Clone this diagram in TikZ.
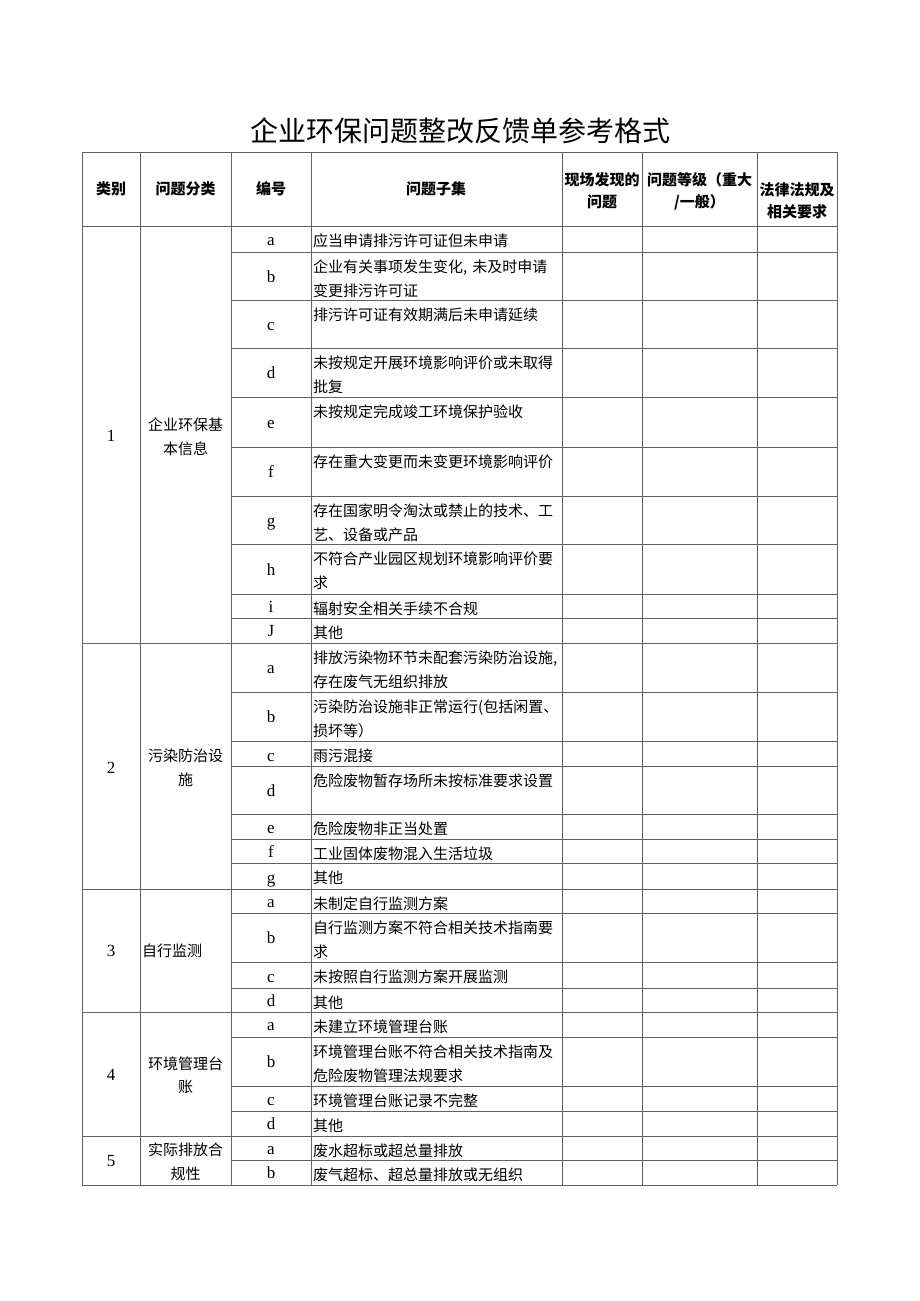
\documentclass[tikz,border=0pt]{standalone}
\usepackage{fontspec}
\setmainfont{Liberation Serif}
\newfontfamily\cjk{Noto Sans CJK SC}
\begin{document}
\begin{tikzpicture}[x=1pt,y=-1pt,
  grid/.style={draw=black!62, line width=0.8pt},
  q/.style={anchor=north west, inner sep=0pt, text width=252pt, align=left, font=\cjk\fontsize{15}{24}\selectfont},
  lt/.style={anchor=base, inner sep=0pt, font=\fontsize{17}{20}\selectfont},
  num/.style={inner sep=0pt, font=\fontsize{17}{20}\selectfont},
  cat/.style={inner sep=0pt, align=center, font=\cjk\fontsize{15}{23.5}\selectfont},
  hd/.style={inner sep=0pt, align=center, font=\cjk\bfseries\fontsize{15}{22}\selectfont},
  ttl/.style={inner sep=0pt, font=\cjk\fontsize{28}{32}\selectfont}]
\useasboundingbox (0,0) rectangle (920,1301);
\fill[white] (0,0) rectangle (920,1301);

% title
\node[ttl] (title) at (460,131) {企业环保问题整改反馈单参考格式};

% grid: vertical lines
\foreach \x in {82,140,231,311,562,642,757,837}
  \draw[grid] (\x,152) -- (\x,1185);
% full-width horizontal lines
\foreach \y in {152,226,643,889,1012,1136,1185}
  \draw[grid] (82,\y) -- (837,\y);
% sub-row lines
\foreach \y in {252,300,348,397,447,496,544,594,618,
                692,741,766,814,839,863,
                913,962,988,
                1037,1086,1111,
                1160}
  \draw[grid] (231,\y) -- (837,\y);

% header
\node[hd] (h1) at (111,189) {类别};
\node[hd] (h2) at (185.5,189) {问题分类};
\node[hd] (h3) at (271,189) {编号};
\node[hd] (h4) at (436,189) {问题子集};
\node[hd] (h5) at (602,191) {现场发现的\\问题};
\node[hd] (h6) at (699.5,191) {问题等级（重大\\/一般）};
\node[hd] (h7) at (797,201) {法律法规及\\相关要求};

% category numbers and names
\node[num] (n1) at (111,436) {1};
\node[cat] (c1) at (185.5,436.5) {企业环保基\\本信息};
\node[num] (n2) at (111,768) {2};
\node[cat] (c2) at (185.5,768) {污染防治设\\施};
\node[num] (n3) at (111,951) {3};
\node[cat, anchor=west] (c3) at (142,951) {自行监测};
\node[num] (n4) at (111,1075) {4};
\node[cat] (c4) at (185.5,1075.5) {环境管理台\\账};
\node[num] (n5) at (111,1161) {5};
\node[cat] (c5) at (185.5,1161.5) {实际排放合\\规性};

% category 1
\node[lt] (l1a) at (271,245) {a};
\node[q] (q1a) at (313,232) {\rule{0pt}{14pt}应当申请排污许可证但未申请};
\node[lt] (l1b) at (271,282) {b};
\node[q] (q1b) at (313,258) {\rule{0pt}{14pt}企业有关事项发生变化, 未及时申请\\变更排污许可证};
\node[lt] (l1c) at (271,330) {c};
\node[q] (q1c) at (313,306) {\rule{0pt}{14pt}排污许可证有效期满后未申请延续};
\node[lt] (l1d) at (271,378.5) {d};
\node[q] (q1d) at (313,354) {\rule{0pt}{14pt}未按规定开展环境影响评价或未取得\\批复};
\node[lt] (l1e) at (271,428) {e};
\node[q] (q1e) at (313,403) {\rule{0pt}{14pt}未按规定完成竣工环境保护验收};
\node[lt] (l1f) at (271,477.5) {f};
\node[q] (q1f) at (313,453) {\rule{0pt}{14pt}存在重大变更而未变更环境影响评价};
\node[lt] (l1g) at (271,526) {g};
\node[q] (q1g) at (313,502) {\rule{0pt}{14pt}存在国家明令淘汰或禁止的技术、工\\艺、设备或产品};
\node[lt] (l1h) at (271,575) {h};
\node[q] (q1h) at (313,550) {\rule{0pt}{14pt}不符合产业园区规划环境影响评价要\\求};
\node[lt] (l1i) at (271,612) {i};
\node[q] (q1i) at (313,600) {\rule{0pt}{14pt}辐射安全相关手续不合规};
\node[lt] (l1j) at (271,636.5) {J};
\node[q] (q1j) at (313,624) {\rule{0pt}{14pt}其他};

% category 2
\node[lt] (l2a) at (271,673.5) {a};
\node[q] (q2a) at (313,649) {\rule{0pt}{14pt}排放污染物环节未配套污染防治设施,\\存在废气无组织排放};
\node[lt] (l2b) at (271,722.5) {b};
\node[q] (q2b) at (313,698) {\rule{0pt}{14pt}污染防治设施非正常运行(包括闲置、\\损坏等）};
\node[lt] (l2c) at (271,761) {c};
\node[q] (q2c) at (313,747) {\rule{0pt}{14pt}雨污混接};
\node[lt] (l2d) at (271,796) {d};
\node[q] (q2d) at (313,772) {\rule{0pt}{14pt}危险废物暂存场所未按标准要求设置};
\node[lt] (l2e) at (271,833.5) {e};
\node[q] (q2e) at (313,820) {\rule{0pt}{14pt}危险废物非正当处置};
\node[lt] (l2f) at (271,857) {f};
\node[q] (q2f) at (313,845) {\rule{0pt}{14pt}工业固体废物混入生活垃圾};
\node[lt] (l2g) at (271,883) {g};
\node[q] (q2g) at (313,869) {\rule{0pt}{14pt}其他};

% category 3
\node[lt] (l3a) at (271,907) {a};
\node[q] (q3a) at (313,895) {\rule{0pt}{14pt}未制定自行监测方案};
\node[lt] (l3b) at (271,943.5) {b};
\node[q] (q3b) at (313,919) {\rule{0pt}{14pt}自行监测方案不符合相关技术指南要\\求};
\node[lt] (l3c) at (271,982) {c};
\node[q] (q3c) at (313,968) {\rule{0pt}{14pt}未按照自行监测方案开展监测};
\node[lt] (l3d) at (271,1006) {d};
\node[q] (q3d) at (313,994) {\rule{0pt}{14pt}其他};

% category 4
\node[lt] (l4a) at (271,1030.5) {a};
\node[q] (q4a) at (313,1018) {\rule{0pt}{14pt}未建立环境管理台账};
\node[lt] (l4b) at (271,1067.5) {b};
\node[q] (q4b) at (313,1043) {\rule{0pt}{14pt}环境管理台账不符合相关技术指南及\\危险废物管理法规要求};
\node[lt] (l4c) at (271,1105) {c};
\node[q] (q4c) at (313,1092) {\rule{0pt}{14pt}环境管理台账记录不完整};
\node[lt] (l4d) at (271,1129.5) {d};
\node[q] (q4d) at (313,1117) {\rule{0pt}{14pt}其他};

% category 5
\node[lt] (l5a) at (271,1154) {a};
\node[q] (q5a) at (313,1142) {\rule{0pt}{14pt}废水超标或超总量排放};
\node[lt] (l5b) at (271,1178.5) {b};
\node[q] (q5b) at (313,1166) {\rule{0pt}{14pt}废气超标、超总量排放或无组织};
\end{tikzpicture}
\end{document}
